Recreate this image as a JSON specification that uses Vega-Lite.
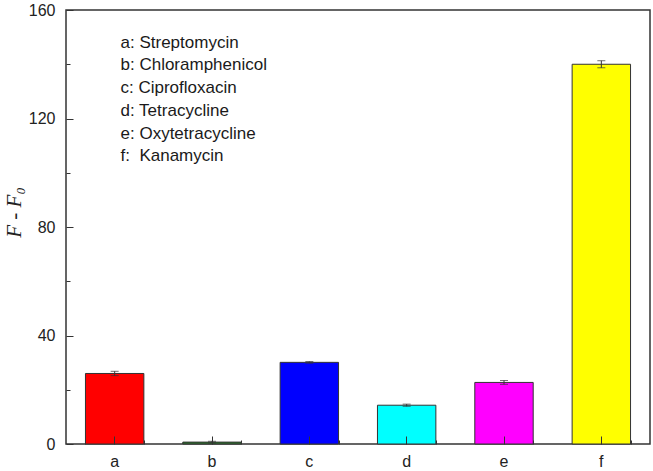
{
  "$schema": "https://vega.github.io/schema/vega-lite/v6.json",
  "autosize": {"type": "none"},
  "padding": {"left": 66, "top": 10, "right": 3, "bottom": 27},
  "width": 584,
  "height": 434,
  "background": "white",
  "config": {
    "view": {"stroke": "#333", "strokeWidth": 1.5},
    "axis": {"grid": false, "domain": false, "labelFont": "Liberation Sans", "labelFontSize": 16, "labelColor": "#222", "tickColor": "#333", "tickWidth": 1}
  },
  "data": {"values": [
    {"cat": "a", "name": "Streptomycin", "value": 26.0, "err": 0.8, "color": "#ff0000"},
    {"cat": "b", "name": "Chloramphenicol", "value": 0.7, "err": 0.3, "color": "#2a7a2a"},
    {"cat": "c", "name": "Ciprofloxacin", "value": 30.1, "err": 0.3, "color": "#0000ff"},
    {"cat": "d", "name": "Tetracycline", "value": 14.3, "err": 0.4, "color": "#00ffff"},
    {"cat": "e", "name": "Oxytetracycline", "value": 22.7, "err": 0.7, "color": "#ff00ff"},
    {"cat": "f", "name": "Kanamycin", "value": 140.0, "err": 1.3, "color": "#ffff00"}
  ]},
  "resolve": {"axis": {"x": "independent", "y": "independent"}},
  "layer": [
    {
      "mark": {"type": "bar", "stroke": "#333", "strokeWidth": 1},
      "encoding": {
        "x": {"field": "cat", "type": "nominal", "sort": null,
          "scale": {"paddingInner": 0.4, "paddingOuter": 0.2},
          "axis": {"orient": "bottom", "title": null, "labelAngle": 0, "ticks": false, "labelPadding": 9}},
        "y": {"field": "value", "type": "quantitative",
          "scale": {"domain": [0, 160], "nice": false},
          "axis": {"orient": "left", "values": [0, 40, 80, 120, 160], "ticks": false, "labelPadding": 11,
            "title": "F - F₀", "titleFont": "Liberation Serif", "titleFontStyle": "italic", "titleFontWeight": "normal", "titleFontSize": 21, "titleColor": "#222", "titlePadding": 4, "titleY": 202}},
        "fill": {"field": "color", "type": "nominal", "scale": null}
      }
    },
    {
      "mark": {"type": "errorbar", "color": "#333", "thickness": 1, "ticks": {"size": 8, "thickness": 1, "color": "#333"}},
      "encoding": {
        "x": {"field": "cat", "type": "nominal", "sort": null,
          "axis": {"orient": "bottom", "title": null, "labels": false, "tickSize": 8, "offset": -8, "zindex": 2}},
        "y": {"field": "value", "type": "quantitative",
          "axis": {"orient": "left", "title": null, "labels": false, "values": [0, 40, 80, 120, 160], "tickSize": 7, "offset": -7, "zindex": 2}},
        "yError": {"field": "err"}
      }
    },
    {
      "data": {"values": [{"legend": "antibiotics"}]},
      "mark": {"type": "text", "align": "left", "baseline": "alphabetic", "font": "Liberation Sans", "fontSize": 17, "color": "#1a1a1a", "lineHeight": 22.7},
      "encoding": {
        "x": {"datum": "a", "type": "nominal", "bandPosition": 0.6,
          "axis": {"orient": "bottom", "title": null, "labels": false, "tickBand": "extent", "tickSize": 4, "offset": -4, "zindex": 2}},
        "y": {"datum": 146.1, "type": "quantitative",
          "axis": {"orient": "left", "title": null, "labels": false, "values": [20, 60, 100, 140], "tickSize": 4, "offset": -4, "zindex": 2}},
        "text": {"value": ["a: Streptomycin", "b: Chloramphenicol", "c: Ciprofloxacin", "d: Tetracycline", "e: Oxytetracycline", "f:\u00a0 Kanamycin"]}
      }
    }
  ]
}
